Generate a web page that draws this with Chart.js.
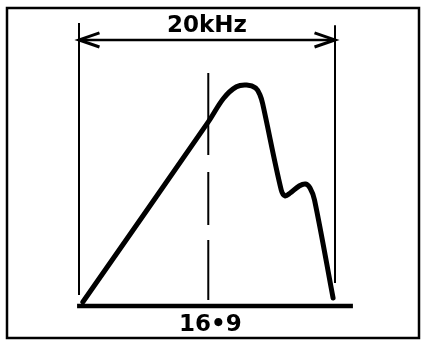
<!DOCTYPE html>
<html lang="en">
<head>
  <meta charset="UTF-8">
  <title>Response</title>
  <style>
    *{
      margin: 0;
      padding: 0;
    }
    body{
      background: white;
    }
    .chartBox{
      width: 424px;
      height: 341px;
    }
  </style>
</head>
<body>
  <div class="chartBox">
    <canvas id="myChart"></canvas>
  </div>
  <script src="https://cdn.jsdelivr.net/npm/chart.js"></script>
  <script>
    // frequency (kHz) and level (peak = 100)
    const freqs  = [0.3, 10.1, 11.3, 12.3, 13.1, 13.8, 14.15, 14.35, 15.8, 16.1, 16.5, 17.2, 17.7, 18.05, 18.4, 19.85];
    const levels = [1.8, 83.3, 94.0, 99.2, 100, 98.6, 95.3, 91.5, 52.5, 49.8, 51.1, 54.3, 55.2, 53.4, 48.0, 3.6];

    const bandStart = 0;     // kHz
    const bandEnd = 20;      // kHz
    const markFreq = 10.1;   // dashed marker
    const dimLevel = 120.4;  // level of the 20kHz dimension arrow
    const topLabel = '20kHz';
    const bottomLabel = '16\u20229';

    const curve = freqs.map((f, i) => ({x: f, y: levels[i]}));

    const line = (pts, width, extra) => Object.assign({
      data: pts,
      showLine: true,
      borderColor: '#000',
      borderWidth: width,
      pointRadius: 0,
      fill: false,
      clip: false
    }, extra || {});

    const data = {
      datasets: [
        line(curve, 5, {tension: 0.35, borderCapStyle: 'round', borderJoinStyle: 'round'}),
        // baseline
        line([{x: -0.15, y: 0}, {x: 21.4, y: 0}], 4.5),
        // extension lines
        line([{x: bandStart, y: 5}, {x: bandStart, y: 128}], 2),
        line([{x: bandEnd, y: 10.4}, {x: bandEnd, y: 127}], 2),
        // dimension arrow
        line([{x: bandStart, y: dimLevel}, {x: bandEnd, y: dimLevel}], 2.5),
        line([{x: 1.6, y: dimLevel + 3.2}, {x: bandStart, y: dimLevel}, {x: 1.6, y: dimLevel - 3.2}], 3),
        line([{x: bandEnd - 1.6, y: dimLevel + 3.2}, {x: bandEnd, y: dimLevel}, {x: bandEnd - 1.6, y: dimLevel - 3.2}], 3),
        // dashed marker
        line([{x: markFreq, y: 105.4}, {x: markFreq, y: 2.7}], 2, {borderDash: [82, 17, 53, 15, 60, 20]})
      ]
    };

    const frameAndText = {
      id: 'frameAndText',
      afterDatasetsDraw(chart) {
        const ctx = chart.ctx;
        const xs = chart.scales.x;
        const ys = chart.scales.y;
        ctx.save();
        ctx.strokeStyle = '#000';
        ctx.lineWidth = 2.5;
        ctx.strokeRect(7, 8, 412, 330);
        ctx.fillStyle = '#000';
        ctx.font = 'bold 23px "DejaVu Sans"';
        ctx.textAlign = 'center';
        ctx.textBaseline = 'alphabetic';
        ctx.fillText(topLabel, xs.getPixelForValue((bandStart + bandEnd) / 2), ys.getPixelForValue(dimLevel) - 8);
        ctx.fillText(bottomLabel, xs.getPixelForValue(markFreq) + 2, ys.getPixelForValue(0) + 25);
        ctx.restore();
      }
    };

    const config = {
      type: 'scatter',
      data,
      options: {
        responsive: true,
        maintainAspectRatio: false,
        animation: false,
        layout: {padding: 0},
        plugins: {
          legend: {display: false},
          tooltip: {enabled: false}
        },
        scales: {
          x: {type: 'linear', display: false, min: -6.172, max: 26.953},
          y: {type: 'linear', display: false, min: -15.84, max: 138.46}
        }
      },
      plugins: [frameAndText]
    };

    const myChart = new Chart(document.getElementById('myChart'), config);
  </script>
</body>
</html>
